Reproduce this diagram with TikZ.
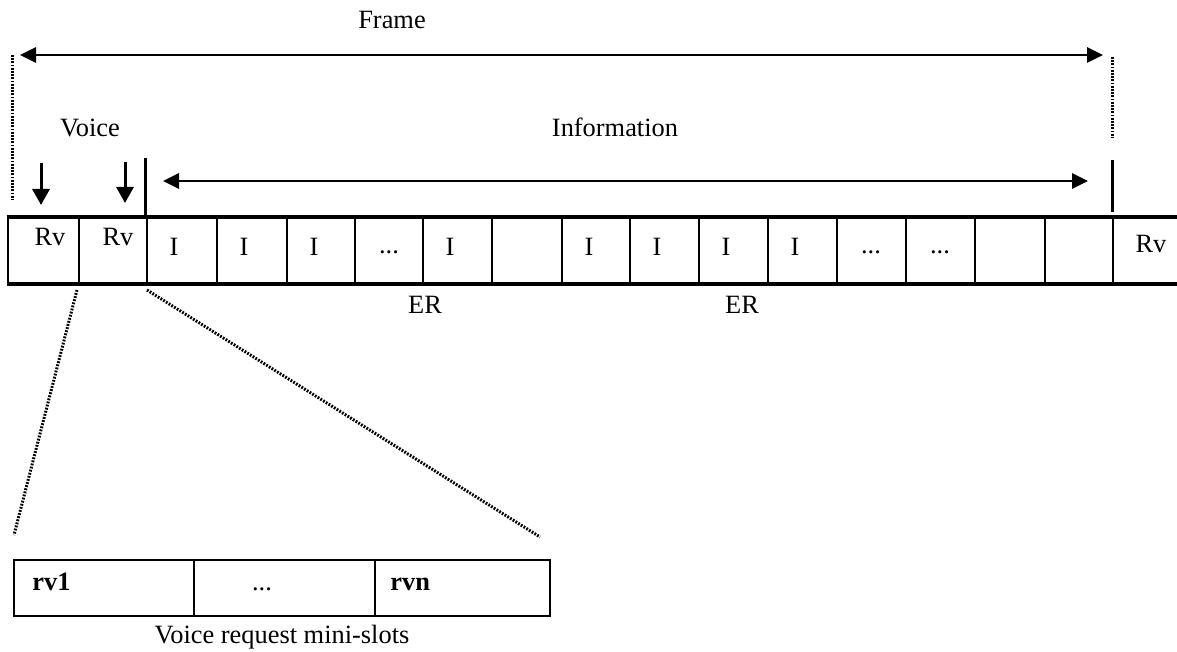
\documentclass[tikz,border=0pt]{standalone}
\usepackage{fontspec}
\setmainfont{Liberation Serif}
\usetikzlibrary{arrows.meta}
\begin{document}
\begin{tikzpicture}[x=0.5pt,y=-0.5pt,
 cellbox/.style={draw, line width=1.3pt, inner sep=0pt, minimum height=32.5pt},
 minibox/.style={draw, line width=1.1pt, inner sep=0pt, minimum height=28pt},
 lbl/.style={font=\fontsize{13.2}{15}\selectfont, inner sep=0pt, anchor=base},
 boldlbl/.style={font=\fontsize{13.2}{15}\selectfont\bfseries, inner sep=0pt, anchor=base west},
 dimarrow/.style={line width=1.4pt, {Triangle[length=8pt,width=7.5pt]}-{Triangle[length=8pt,width=7.5pt]}},
 downarrow/.style={line width=1.5pt, -{Triangle[length=8pt,width=8.5pt]}},
 dotline/.style={line width=1.5pt, dash pattern=on 0.9pt off 0.7pt},
 barline/.style={line width=1.5pt}]
\useasboundingbox (0,0) rectangle (1177,652);
\fill[white] (0,0) rectangle (1177,652);
% frame slots
\foreach \l/\r [count=\i] in {8/79,79/147,147/217,217/287,287/355,355/423,423/492,492/562,562/630,630/699,699/768,768/837,837/906,906/975,975/1045,1045/1113,1113/1200} {
  \node[cellbox, minimum width={(\r-\l)*0.5pt}] (c\i) at ({(\l+\r)/2},250.5) {};
}
\draw[line width=2pt] (c1.north west) -- (c17.north east);
\draw[line width=2pt] (c1.south west) -- (c17.south east);
% slot labels
\node[lbl] (rv1) at (50,246) {Rv};
\node[lbl] (rv2) at (118,246) {Rv};
\node[lbl] (i3) at (174,256) {I};
\node[lbl] (i4) at (244,256) {I};
\node[lbl] (i5) at (314,256) {I};
\node[lbl] (d6) at (389,254) {...};
\node[lbl] (i7) at (450,256) {I};
\node[lbl] (i9) at (589,256) {I};
\node[lbl] (i10) at (657,256) {I};
\node[lbl] (i11) at (726,256) {I};
\node[lbl] (i12) at (795,256) {I};
\node[lbl] (d13) at (871,254) {...};
\node[lbl] (d14) at (940,254) {...};
\node[lbl] (rv17) at (1151,253) {Rv};
\node[lbl] (er1) at (425,313) {ER};
\node[lbl] (er2) at (742,313) {ER};
% titles
\node[lbl] (frame) at (392,29) {Frame};
\node[lbl] (voice) at (90,137) {Voice};
\node[lbl] (info) at (615,137) {Information};
% frame arrow
\coordinate (fl) at (20,55);
\coordinate (fr) at (1103,55);
\draw[dimarrow] (fl) -- (fr);
\coordinate (dl1) at (12,55);
\coordinate (dl2) at (12,200);
\draw[dotline] (dl1) -- (dl2);
\coordinate (dr1) at (1112,57);
\coordinate (dr2) at (1112,138);
\draw[dotline] (dr1) -- (dr2);
% information arrow
\coordinate (il) at (163,181);
\coordinate (ir) at (1088,181);
\draw[dimarrow] (il) -- (ir);
\coordinate (bl1) at (145,158);
\coordinate (bl2) at (145,215);
\draw[barline] (bl1) -- (bl2);
\coordinate (br1) at (1112,160);
\coordinate (br2) at (1112,212);
\draw[barline] (br1) -- (br2);
% voice arrows
\coordinate (va1) at (41,163);
\coordinate (vb1) at (41,205);
\draw[downarrow] (va1) -- (vb1);
\coordinate (va2) at (125,162);
\coordinate (vb2) at (125,203);
\draw[downarrow] (va2) -- (vb2);
% zoom lines
\coordinate (zs1) at (77,290);
\coordinate (ze1) at (14,535);
\coordinate (zs2) at (147,290);
\coordinate (ze2) at (540,537);
\draw[dotline] (zs1) -- (ze1);
\draw[dotline] (zs2) -- (ze2);
% mini-slots
\node[minibox, minimum width=90pt] (m1) at (104,588) {};
\node[minibox, minimum width=90.5pt] (m2) at (284.5,588) {};
\node[minibox, minimum width=87.5pt] (m3) at (462.5,588) {};
\node[boldlbl] (t1) at (32,590) {rv1};
\node[lbl] (t2) at (262,590) {...};
\node[boldlbl] (t3) at (390,590) {rvn};
\node[lbl] (cap) at (282,643) {Voice request mini-slots};
\end{tikzpicture}
\end{document}
